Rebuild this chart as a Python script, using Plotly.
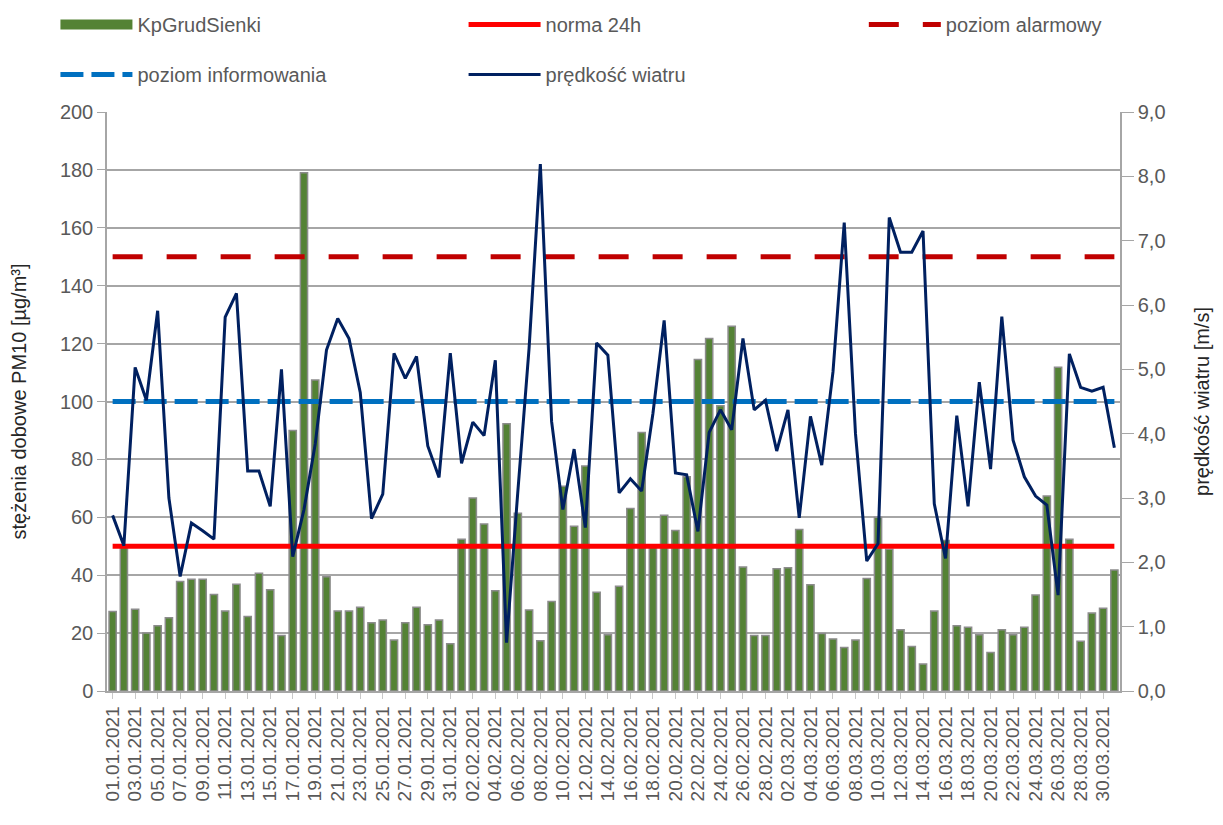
import pandas as pd
import plotly.graph_objects as go

# ---- data ----
dates = [d.strftime("%d.%m.%Y") for d in pd.date_range("2021-01-01", "2021-03-31", freq="D")]

pm10 = [27.5, 50.5, 28.2, 20.0, 22.5, 25.3, 37.8, 38.6, 38.6, 33.3,
        27.6, 36.9, 25.7, 40.7, 35.0, 19.2, 90.0, 179.0, 107.4, 39.5,
        27.6, 27.6, 28.9, 23.6, 24.5, 17.6, 23.6, 28.9, 22.9, 24.5,
        16.3, 52.4, 66.7, 57.7, 34.6, 92.3, 61.4, 28.0, 17.4, 30.9,
        70.7, 56.9, 77.7, 34.1, 19.4, 36.2, 63.0, 89.3, 50.0, 60.7,
        55.4, 74.0, 114.5, 121.8, 98.5, 126.0, 42.8, 19.2, 19.2, 42.2,
        42.6, 55.8, 36.7, 19.9, 18.0, 15.0, 17.6, 38.9, 60.0, 49.0,
        21.2, 15.4, 9.3, 27.6, 52.0, 22.5, 22.0, 19.4, 13.3, 21.2,
        19.4, 22.0, 33.2, 67.4, 111.8, 52.4, 17.2, 26.9, 28.6, 41.8]

wind = [2.73, 2.26, 5.03, 4.52, 5.91, 3.00, 1.78, 2.61, 2.49, 2.36,
        5.81, 6.18, 3.42, 3.42, 2.87, 5.00, 2.09, 2.82, 3.84, 5.30,
        5.79, 5.48, 4.64, 2.68, 3.06, 5.25, 4.86, 5.20, 3.81, 3.32,
        5.25, 3.54, 4.18, 3.97, 5.14, 0.75, 3.10, 5.33, 8.19, 4.19,
        2.82, 3.76, 2.54, 5.41, 5.22, 3.08, 3.30, 3.11, 4.31, 5.76,
        3.39, 3.36, 2.48, 4.02, 4.37, 4.06, 5.48, 4.37, 4.52, 3.73,
        4.37, 2.69, 4.27, 3.51, 4.96, 7.28, 4.00, 2.02, 2.29, 7.36,
        6.82, 6.82, 7.15, 2.91, 2.06, 4.28, 2.87, 4.80, 3.45, 5.82,
        3.90, 3.33, 3.03, 2.89, 1.49, 5.24, 4.72, 4.66, 4.72, 3.78]

norma_24h = 50
poziom_alarmowy = 150
poziom_informowania = 100

tick_labels = dates[::2]

# ---- figure ----
GREEN = "#548235"
fig = go.Figure()
fig.add_trace(go.Bar(
    x=dates, y=pm10, name="KpGrudSienki", legendgroup="pm", showlegend=False,
    marker=dict(color=GREEN, line=dict(color="#8c8c8c", width=1.5)),
))
# legend swatch for the bar series (wide rectangle like the original)
fig.add_trace(go.Scatter(
    x=[None], y=[None], name="KpGrudSienki", legendgroup="pm", legend="legend",
    mode="lines", line=dict(color=GREEN, width=11),
))
fig.add_trace(go.Scatter(
    x=dates, y=[norma_24h] * len(dates), name="norma 24h", mode="lines",
    legendgroup="norma", legend="legend2",
    line=dict(color="#ff0000", width=5),
))
fig.add_trace(go.Scatter(
    x=dates, y=[poziom_alarmowy] * len(dates), name="poziom alarmowy", mode="lines",
    legendgroup="alarm", legend="legend3",
    line=dict(color="#c00000", width=5, dash="30px,24px"),
))
fig.add_trace(go.Scatter(
    x=dates, y=[poziom_informowania] * len(dates), name="poziom informowania", mode="lines",
    legendgroup="info", legend="legend",
    line=dict(color="#0070c0", width=5, dash="23px,8px"),
))
fig.add_trace(go.Scatter(
    x=dates, y=wind, name="prędkość wiatru", mode="lines", yaxis="y2",
    legendgroup="wind", legend="legend2",
    line=dict(color="#002060", width=3),
))

grid = "#a6a6a6"
leg_common = dict(
    orientation="v", yanchor="top", xanchor="left", y=1.185,
    itemwidth=72, font=dict(size=20, color="#595959"), bgcolor="rgba(0,0,0,0)",
    traceorder="grouped", tracegroupgap=21,
)
# the page body adds an 8px offset, so the figure is sized to fill the rest of the window
fig.update_layout(
    width=1215, height=817,
    margin=dict(l=99, r=103, t=104, b=134, autoexpand=False),
    plot_bgcolor="white", paper_bgcolor="white",
    font=dict(family="Liberation Sans, Arial, sans-serif", color="#595959", size=18),
    separators=", ",
    bargap=0.36,
    showlegend=True,
    legend=dict(x=-0.0509, **leg_common),
    legend2=dict(x=0.352, **leg_common),
    legend3=dict(x=0.7471, **leg_common),
    xaxis=dict(
        type="category", range=[-0.5, len(dates) - 0.5],
        tickmode="array", tickvals=tick_labels, ticktext=tick_labels,
        tickangle=-90, tickfont=dict(size=19, color="#595959"),
        showline=True, linecolor=grid, linewidth=1.5,
        ticks="outside", tickcolor="#c8c8c8", ticklen=6,
        showgrid=False,
    ),
    yaxis=dict(
        range=[0, 200], dtick=20, tickfont=dict(size=20, color="#595959"),
        showgrid=True, gridcolor=grid, gridwidth=1.5,
        showline=True, linecolor=grid, linewidth=1.5,
        ticks="outside", tickcolor=grid, ticklen=8,
        title=dict(text="stężenia dobowe PM10 [µg/m³]", font=dict(size=20, color="#262626"), standoff=34),
        zeroline=False,
    ),
    yaxis2=dict(
        overlaying="y", side="right", range=[0, 9], dtick=1, tickformat=".1f",
        tickfont=dict(size=20, color="#595959"),
        showgrid=False, showline=True, linecolor=grid, linewidth=1.5,
        ticks="outside", tickcolor=grid, ticklen=12,
        title=dict(text="prędkość wiatru [m/s]", font=dict(size=20, color="#262626"), standoff=30),
        zeroline=False,
    ),
)

fig.write_html("out.html")
